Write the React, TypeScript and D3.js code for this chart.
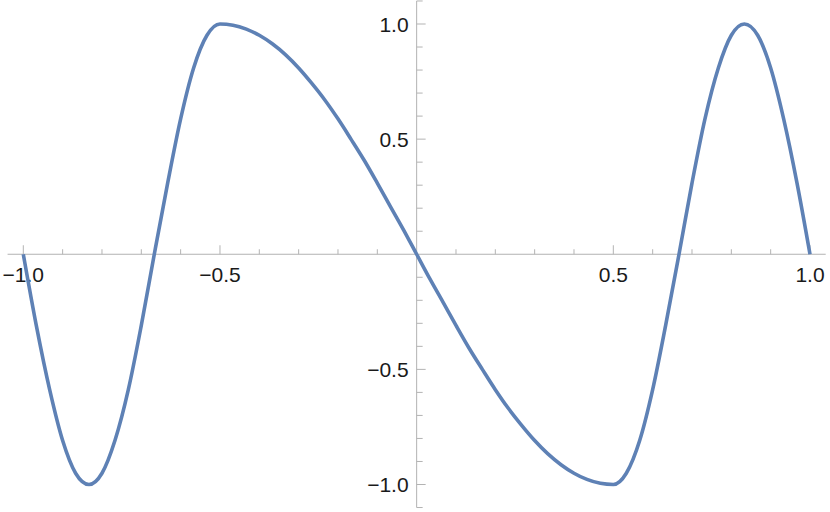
import * as React from 'react'
import * as d3 from 'd3'

// curve samples
const xValues = [
  -1, -0.967, -0.933, -0.9, -0.867, -0.833, -0.8, -0.767, -0.733, -0.7, -0.667,
  -0.633, -0.6, -0.567, -0.533, -0.5, -0.467, -0.433, -0.4, -0.367, -0.333,
  -0.3, -0.267, -0.233, -0.2, -0.167, -0.133, -0.1, -0.067, -0.033, 0,
  0.033, 0.067, 0.1, 0.133, 0.167, 0.2, 0.233, 0.267, 0.3, 0.333,
  0.367, 0.4, 0.433, 0.467, 0.5, 0.533, 0.567, 0.6, 0.633, 0.667,
  0.7, 0.733, 0.767, 0.8, 0.833, 0.867, 0.9, 0.933, 0.967, 1,
]
const yValues = [
  0, -0.309, -0.588, -0.809, -0.951, -1, -0.951, -0.809, -0.588, -0.309, 0,
  0.309, 0.588, 0.809, 0.951, 1, 0.995, 0.978, 0.951, 0.914, 0.866,
  0.809, 0.743, 0.669, 0.588, 0.5, 0.407, 0.309, 0.208, 0.105, 0,
  -0.105, -0.208, -0.309, -0.407, -0.5, -0.588, -0.669, -0.743, -0.809, -0.866,
  -0.914, -0.951, -0.978, -0.995, -1, -0.951, -0.809, -0.588, -0.309, 0,
  0.309, 0.588, 0.809, 0.951, 1, 0.951, 0.809, 0.588, 0.309, 0,
]

const xMajorTicks = [-1.0, -0.5, 0.5, 1.0]
const xMinorTicks = [-0.9, -0.8, -0.7, -0.6, -0.4, -0.3, -0.2, -0.1, 0.1, 0.2, 0.3, 0.4, 0.6, 0.7, 0.8, 0.9]
const yMajorTicks = [-1.0, -0.5, 0.5, 1.0]
const yMinorTicks = [-1.1, -0.9, -0.8, -0.7, -0.6, -0.4, -0.3, -0.2, -0.1, 0.1, 0.2, 0.3, 0.4, 0.6, 0.7, 0.8, 0.9, 1.1]
const xAxisRange = [-1.04, 1.04]
const yAxisRange = [-1.1, 1.1]

const width = 830
const height = 512
const axisColor = '#b3b3b3'
const lineColor = '#5e81b5'
const font = 'Arial, "Liberation Sans", sans-serif'

const fmt = (v: number) => (v < 0 ? '\u2212' : '') + Math.abs(v).toFixed(1)

export default function App() {
  const x = d3.scaleLinear().domain([-1, 1]).range([23.3, 810])
  const y = d3.scaleLinear().domain([-1, 1]).range([484.5, 24])

  const points = xValues.map((v, i) => [v, yValues[i]] as [number, number])
  const line = d3
    .line<[number, number]>()
    .x((d) => x(d[0]))
    .y((d) => y(d[1]))
    .curve(d3.curveMonotoneX)

  const x0 = x(0)
  const y0 = y(0)

  return (
    <svg
      width={width}
      height={height}
      style={{ position: 'absolute', left: 0, top: 0, background: '#fff' }}
    >
      {/* axes */}
      <line x1={x(xAxisRange[0])} x2={x(xAxisRange[1])} y1={y0} y2={y0} stroke={axisColor} strokeWidth={1} />
      <line x1={x0} x2={x0} y1={y(yAxisRange[0])} y2={y(yAxisRange[1])} stroke={axisColor} strokeWidth={1} />

      {xMinorTicks.map((t) => (
        <line key={'xm' + t} x1={x(t)} x2={x(t)} y1={y0} y2={y0 - 5} stroke={axisColor} />
      ))}
      {xMajorTicks.map((t) => (
        <line key={'xM' + t} x1={x(t)} x2={x(t)} y1={y0} y2={y0 - 9} stroke={axisColor} />
      ))}
      {yMinorTicks.map((t) => (
        <line key={'ym' + t} x1={x0} x2={x0 + 6} y1={y(t)} y2={y(t)} stroke={axisColor} />
      ))}
      {yMajorTicks.map((t) => (
        <line key={'yM' + t} x1={x0} x2={x0 + 9} y1={y(t)} y2={y(t)} stroke={axisColor} />
      ))}

      {xMajorTicks.map((t) => (
        <text
          key={'xl' + t}
          x={x(t)}
          y={y0 + 28}
          textAnchor="middle"
          fontFamily={font}
          fontSize={21}
          fill="#1a1a1a"
        >
          {fmt(t)}
        </text>
      ))}
      {yMajorTicks.map((t) => (
        <text
          key={'yl' + t}
          x={x0 - 8}
          y={y(t) + 7.5}
          textAnchor="end"
          fontFamily={font}
          fontSize={21}
          fill="#1a1a1a"
        >
          {fmt(t)}
        </text>
      ))}

      <path d={line(points) ?? ''} fill="none" stroke={lineColor} strokeWidth={3.6} strokeLinejoin="round" />
    </svg>
  )
}
